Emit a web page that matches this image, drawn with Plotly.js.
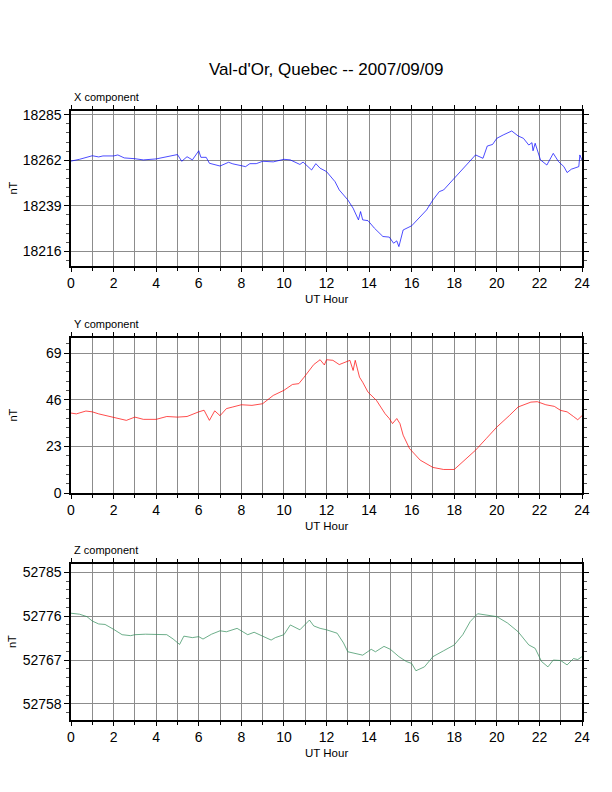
<!DOCTYPE html>
<html>
<head>
<meta charset="utf-8">
<script src="https://cdn.plot.ly/plotly-3.0.1.min.js"></script>
<style>
  body { margin: 0; padding: 0; background: #fff; }
  #plot { width: 612px; height: 792px; }
</style>
</head>
<body>
<div id="plot"></div>
<script>
// values (UT hour, nT)
const xHours = [0, 0.4, 1, 1.3, 1.5, 2, 2.2, 2.5, 3, 3.4, 4, 4.4, 4.7, 5, 5.2, 5.45, 5.7, 6, 6.1, 6.35, 6.5, 7, 7.4, 7.6, 8.2, 8.4, 8.7, 9, 9.5, 10, 10.3, 10.75, 10.9, 11.3, 11.5, 11.7, 12, 12.4, 12.6, 13, 13.25, 13.5, 13.6, 13.7, 13.95, 14.25, 14.65, 14.95, 15.15, 15.3, 15.4, 15.6, 16, 16.4, 16.7, 17, 17.3, 17.5, 18, 18.4, 18.8, 19, 19.35, 19.55, 19.8, 20, 20.3, 20.7, 21, 21.25, 21.5, 21.65, 21.7, 21.8, 22.05, 22.35, 22.65, 22.9, 23.15, 23.3, 23.5, 23.85, 23.9, 24];
const xVals = [18261.6, 18262.5, 18264.3, 18263.7, 18264.2, 18264.2, 18264.7, 18263.2, 18262.8, 18262.2, 18262.7, 18263.5, 18264.2, 18264.9, 18261.5, 18263.8, 18262.2, 18266.8, 18263.5, 18263.5, 18260.5, 18259.1, 18261.0, 18260.2, 18258.8, 18260.3, 18260.3, 18261.5, 18261.2, 18262.5, 18262.2, 18259.9, 18261.1, 18257.1, 18260.3, 18258.0, 18256.3, 18251.2, 18247.0, 18242.0, 18237.8, 18231.9, 18236.1, 18231.9, 18231.5, 18227.7, 18223.5, 18223.2, 18220.1, 18221.3, 18218.4, 18226.8, 18228.9, 18233.6, 18236.9, 18242.0, 18246.2, 18247.0, 18252.9, 18257.1, 18261.8, 18264.7, 18263.0, 18269.2, 18270.0, 18273.1, 18274.8, 18276.8, 18274.3, 18273.1, 18269.7, 18270.9, 18266.8, 18270.6, 18262.2, 18259.6, 18265.5, 18261.3, 18258.8, 18255.8, 18257.5, 18258.8, 18264.7, 18262.0];

const yHours = [0, 0.25, 0.7, 1, 1.3, 2, 2.6, 3, 3.4, 4, 4.5, 5, 5.45, 6, 6.25, 6.5, 6.75, 7, 7.3, 7.6, 8, 8.5, 9, 9.5, 10, 10.4, 10.7, 10.95, 11.2, 11.4, 11.7, 11.9, 12, 12.3, 12.6, 12.9, 13.1, 13.25, 13.35, 13.55, 13.7, 13.95, 14.35, 14.75, 14.95, 15.1, 15.3, 15.45, 15.6, 15.9, 16.4, 17, 17.5, 18, 18.4, 19, 19.5, 20, 20.6, 21, 21.6, 21.9, 22.3, 22.7, 23, 23.3, 23.6, 23.8, 24];
const yVals = [39.4, 39.0, 40.4, 40.0, 39.0, 37.4, 35.8, 37.4, 36.3, 36.3, 37.7, 37.4, 37.7, 40.0, 40.8, 35.8, 40.5, 38.1, 41.6, 42.4, 43.5, 43.2, 44.0, 48.1, 50.6, 53.5, 53.9, 57.1, 60.4, 63.3, 65.7, 63.1, 65.7, 65.4, 63.3, 64.5, 65.4, 60.4, 65.4, 57.1, 54.6, 49.7, 45.6, 39.1, 36.7, 34.2, 36.7, 34.2, 28.5, 21.9, 16.2, 12.6, 11.6, 11.6, 15.3, 21.1, 26.8, 32.5, 38.3, 42.4, 44.8, 45.0, 43.5, 42.7, 40.7, 40.0, 37.7, 36.1, 38.1];

const zHours = [0, 0.4, 0.75, 1, 1.3, 1.6, 2, 2.4, 2.8, 3, 3.5, 4, 4.5, 4.8, 5.1, 5.3, 5.7, 6, 6.2, 6.6, 7, 7.3, 7.8, 8.3, 8.6, 9, 9.4, 9.6, 10, 10.3, 10.75, 11.2, 11.4, 11.7, 12, 12.5, 12.8, 13, 13.5, 13.7, 14.1, 14.3, 14.7, 15, 15.4, 15.75, 16, 16.2, 16.6, 17, 17.5, 18, 18.4, 18.75, 19.1, 19.5, 20, 20.5, 21, 21.5, 21.8, 22.1, 22.4, 22.65, 23, 23.3, 23.6, 23.8, 24];
const zVals = [52776.6, 52776.4, 52775.9, 52775.0, 52774.4, 52774.3, 52773.3, 52772.2, 52772.0, 52772.2, 52772.3, 52772.3, 52772.2, 52771.3, 52770.2, 52771.9, 52771.6, 52771.8, 52771.3, 52772.3, 52773.0, 52772.8, 52773.5, 52772.2, 52772.7, 52771.9, 52771.1, 52771.6, 52772.2, 52774.2, 52773.2, 52775.2, 52774.0, 52773.5, 52773.2, 52772.5, 52770.5, 52768.7, 52768.3, 52768.0, 52769.2, 52768.7, 52769.8, 52769.2, 52767.7, 52766.7, 52766.3, 52764.8, 52765.6, 52767.7, 52768.9, 52770.1, 52772.2, 52774.9, 52776.5, 52776.2, 52775.9, 52774.6, 52772.8, 52770.1, 52769.4, 52766.7, 52765.6, 52767.0, 52766.9, 52766.0, 52767.3, 52767.1, 52767.7];

const panelNames = ['X component', 'Y component', 'Z component'];
const xTickLabels = ['0', '2', '4', '6', '8', '10', '12', '14', '16', '18', '20', '22', '24'];

const font = 'Liberation Sans, Arial, sans-serif';
const W = 612, H = 792;
const fy = px => 1 - px / H;

const panels = [
  { x: xHours, y: xVals, color: '#0000ff', top: 111, bottom: 266, range: [18208.6, 18286.9], tick0: 18216, dtick: 23 },
  { x: yHours, y: yVals, color: '#ff0000', top: 338, bottom: 493, range: [0, 76.4], tick0: 0, dtick: 23 },
  { x: zHours, y: zVals, color: '#2e8b57', top: 564, bottom: 720, range: [52754.7, 52786.7], tick0: 52758, dtick: 9 }
];

const data = [];
const layout = {
  width: W, height: H,
  margin: { l: 0, r: 0, t: 0, b: 0 },
  paper_bgcolor: '#fff', plot_bgcolor: '#fff',
  showlegend: false,
  font: { family: font, color: '#000' },
  annotations: [{
    text: "Val-d'Or, Quebec -- 2007/09/09", xref: 'paper', yref: 'paper',
    x: 326 / W, y: fy(70), xanchor: 'center', yanchor: 'middle',
    showarrow: false, font: { size: 17, family: font }
  }]
};

panels.forEach((p, i) => {
  const n = i === 0 ? '' : String(i + 1);
  data.push({
    x: p.x, y: p.y, xaxis: 'x' + n, yaxis: 'y' + n,
    type: 'scatter', mode: 'lines',
    line: { color: p.color, width: 0.7 }
  });
  layout['xaxis' + n] = {
    domain: [71 / W, 582 / W], range: [0, 24], anchor: 'y' + n,
    tickvals: [0, 2, 4, 6, 8, 10, 12, 14, 16, 18, 20, 22, 24], ticktext: xTickLabels,
    ticks: 'outside', ticklen: 4, tickcolor: '#000', tickfont: { size: 14 },
    showline: true, linecolor: '#000', linewidth: 1.6, mirror: 'ticks',
    showgrid: true, gridcolor: '#8c8c8c', gridwidth: 1, zeroline: false,
    minor: { dtick: 1, showgrid: true, gridcolor: '#8c8c8c', gridwidth: 1, ticks: 'outside', ticklen: 3, tickcolor: '#000' },
    title: { text: '' }
  };
  layout['yaxis' + n] = {
    domain: [fy(p.bottom), fy(p.top)], range: p.range, anchor: 'x' + n,
    tick0: p.tick0, dtick: p.dtick, tickmode: 'linear', tickformat: 'd',
    ticks: 'outside', ticklen: 5, tickcolor: '#000', tickfont: { size: 14 },
    showline: true, linecolor: '#000', linewidth: 1.6, mirror: 'ticks',
    showgrid: true, gridcolor: '#8c8c8c', gridwidth: 1, zeroline: false,
    minor: { dtick: p.dtick / 5, tick0: p.tick0, ticks: 'outside', ticklen: 3, tickcolor: '#555', showgrid: false },
    title: { text: '' }
  };
  layout.annotations.push(
    { text: panelNames[i], xref: 'paper', yref: 'paper', x: 72 / W, y: fy(p.top - 6),
      xanchor: 'left', yanchor: 'bottom', showarrow: false, font: { size: 11, family: font } },
    { text: 'nT', xref: 'paper', yref: 'paper', x: 12 / W, y: fy((p.top + p.bottom) / 2),
      xanchor: 'center', yanchor: 'middle', textangle: -90, showarrow: false, font: { size: 11, family: font } },
    { text: 'UT Hour', xref: 'paper', yref: 'paper', x: 326 / W, y: fy(p.bottom + 33),
      xanchor: 'center', yanchor: 'middle', showarrow: false, font: { size: 11.5, family: font } }
  );
});

Plotly.newPlot('plot', data, layout, { staticPlot: true, displayModeBar: false });
</script>
</body>
</html>
